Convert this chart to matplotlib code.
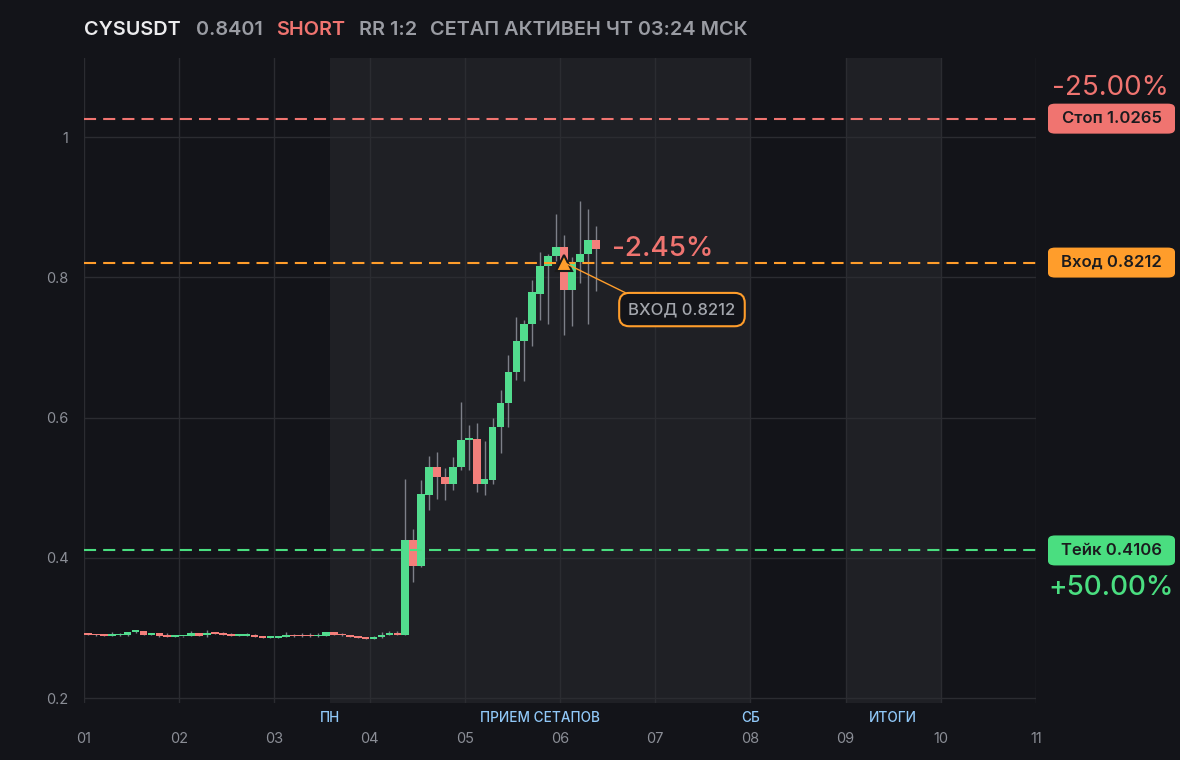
import numpy as np
import matplotlib
matplotlib.use("Agg")
import matplotlib.pyplot as plt
from matplotlib.patches import FancyBboxPatch

plt.rcParams['font.family'] = ['Inter', 'DejaVu Sans']

# --- данные (2-часовые свечи, начиная с дня 01) ---
symbol = "CYSUSDT"
last_price = "0.8401"
side = "SHORT"
rr_text = "RR 1:2"
status_text = "СЕТАП АКТИВЕН ЧТ 03:24 МСК"

opens = [0.2929, 0.2905, 0.2895, 0.2890, 0.2895, 0.2905, 0.2940, 0.2955, 0.2905, 0.2925,
         0.2890, 0.2876, 0.2880, 0.2888, 0.2925, 0.2905, 0.2925, 0.2915, 0.2905, 0.2890,
         0.2890, 0.2905, 0.2878, 0.2862, 0.2862, 0.2876, 0.2905, 0.2890, 0.2890, 0.2880,
         0.2890, 0.2940, 0.2905, 0.2893, 0.2876, 0.2862, 0.2848, 0.2876, 0.2905, 0.2929,
         0.2905, 0.4257, 0.3890, 0.4900, 0.5295, 0.5160, 0.5048, 0.5295, 0.5686, 0.5700,
         0.5060, 0.5110, 0.5860, 0.6210, 0.6650, 0.7090, 0.7340, 0.7770, 0.8157, 0.8300,
         0.8440, 0.7814, 0.8214, 0.8340, 0.8530]
closes = [0.2905, 0.2895, 0.2890, 0.2905, 0.2905, 0.2940, 0.2955, 0.2905, 0.2925, 0.2890,
          0.2876, 0.2885, 0.2888, 0.2925, 0.2890, 0.2925, 0.2915, 0.2905, 0.2890, 0.2905,
          0.2905, 0.2876, 0.2862, 0.2876, 0.2876, 0.2905, 0.2880, 0.2880, 0.2880, 0.2895,
          0.2940, 0.2905, 0.2893, 0.2876, 0.2862, 0.2848, 0.2876, 0.2905, 0.2929, 0.2905,
          0.4257, 0.3890, 0.4914, 0.5295, 0.5160, 0.5048, 0.5295, 0.5686, 0.5700, 0.5060,
          0.5129, 0.5870, 0.6210, 0.6657, 0.7100, 0.7340, 0.7786, 0.8157, 0.8300, 0.8440,
          0.7814, 0.8214, 0.8340, 0.8530, 0.8401]
highs = [0.2935, 0.2910, 0.2900, 0.2945, 0.2935, 0.2945, 0.2960, 0.2960, 0.2930, 0.2930,
         0.2925, 0.2890, 0.2892, 0.2955, 0.2930, 0.2965, 0.2945, 0.2940, 0.2935, 0.2910,
         0.2925, 0.2910, 0.2880, 0.2880, 0.2880, 0.2945, 0.2910, 0.2925, 0.2925, 0.2925,
         0.2945, 0.2945, 0.2925, 0.2898, 0.2880, 0.2865, 0.2880, 0.2945, 0.2950, 0.2950,
         0.5129, 0.4410, 0.5110, 0.5457, 0.5510, 0.5286, 0.5438, 0.6230, 0.5900, 0.5930,
         0.5670, 0.6000, 0.6400, 0.6900, 0.7430, 0.7386, 0.7957, 0.8357, 0.8330, 0.8900,
         0.8600, 0.8286, 0.9086, 0.8970, 0.8730]
lows = [0.2900, 0.2890, 0.2885, 0.2885, 0.2890, 0.2880, 0.2925, 0.2900, 0.2900, 0.2875,
        0.2870, 0.2872, 0.2876, 0.2885, 0.2885, 0.2870, 0.2910, 0.2900, 0.2885, 0.2885,
        0.2885, 0.2865, 0.2858, 0.2858, 0.2858, 0.2865, 0.2875, 0.2876, 0.2876, 0.2876,
        0.2885, 0.2900, 0.2888, 0.2865, 0.2858, 0.2844, 0.2840, 0.2855, 0.2900, 0.2900,
        0.2900, 0.3660, 0.3876, 0.4686, 0.4840, 0.4820, 0.4970, 0.5257, 0.5247, 0.4940,
        0.4900, 0.5060, 0.5490, 0.5870, 0.6540, 0.6530, 0.7020, 0.7386, 0.7330, 0.8230,
        0.7186, 0.7314, 0.7914, 0.7340, 0.7800]

start_day = 1
candles_per_day = 12

stop_price = 1.0265
entry_price = 0.8212
take_price = 0.4106
entry_candle = 60
stop_pct = "-25.00%"
take_pct = "+50.00%"
current_pct = "-2.45%"

day_ticks = [1, 2, 3, 4, 5, 6, 7, 8, 9, 10, 11]
day_labels = ["01", "02", "03", "04", "05", "06", "07", "08", "09", "10", "11"]
y_ticks = [0.2, 0.4, 0.6, 0.8, 1.0]
y_labels = ["0.2", "0.4", "0.6", "0.8", "1"]

# сессии (подсвеченные интервалы) и подписи под осью
sessions = [(3.583, 8.0), (9.0, 10.0)]
session_labels = ["ПН", "ПРИЕМ СЕТАПОВ", "СБ", "ИТОГИ"]
session_label_x = [3.58, 5.79, 8.0, 9.5]

# --- цвета ---
BG = '#131419'
BAND = '#1f2025'
GRID = '#2b2c31'
RED = '#f47f7b'
GREEN = '#52dc8e'
ORANGE = '#ff9d2b'
STOP_C = '#f07470'
TAKE_C = '#4ade80'
GREY = '#8b8e96'
BLUE = '#90c8f8'

W, H = 1180, 760
fig = plt.figure(figsize=(W / 100, H / 100), dpi=100, facecolor=BG)
ax_l, ax_r, ax_b, ax_t = 84 / W, 1036 / W, 1 - 703 / H, 1 - 58 / H
ax = fig.add_axes([ax_l, ax_b, ax_r - ax_l, ax_t - ax_b], facecolor=BG)
ymin, ymax = 0.193, 1.113
ax.set_xlim(1, 11)
ax.set_ylim(ymin, ymax)

for a, b in sessions:
    ax.axvspan(a, b, color=BAND, zorder=0, lw=0)

ax.set_xticks(day_ticks)
ax.set_xticklabels(day_labels)
ax.set_yticks(y_ticks)
ax.set_yticklabels(y_labels)
ax.grid(True, color=GRID, lw=1)
ax.set_axisbelow(True)
for g in ax.get_xgridlines() + ax.get_ygridlines():
    g.set_zorder(0.5)
for s in ax.spines.values():
    s.set_visible(False)
ax.tick_params(axis='x', length=0, pad=21, labelsize=10.5, labelcolor=GREY)
ax.tick_params(axis='y', length=0, pad=11, labelsize=10.5, labelcolor=GREY)

# свечи
o = np.array(opens)
c = np.array(closes)
times = start_day + (np.arange(len(o)) + 0.5) / candles_per_day
up = c >= o
colors = np.where(up, GREEN, RED)
bottoms = np.minimum(o, c)
heights = np.maximum(np.abs(c - o), 0.0025)
ax.vlines(times, lows, highs, color='#7d8089', lw=1, zorder=2)
ax.bar(times, heights, bottom=bottoms, width=0.97 / candles_per_day,
       color=colors, lw=0, zorder=3)

# уровни
dash = (5.8, 3.4)
ax.axhline(stop_price, color=STOP_C, lw=1.5, dashes=dash, zorder=4)
ax.axhline(entry_price, color=ORANGE, lw=1.5, dashes=dash, zorder=4)
ax.axhline(take_price, color=TAKE_C, lw=1.5, dashes=dash, zorder=4)

# точка входа
ax.plot([times[entry_candle]], [entry_price], marker='^', ms=11, color=ORANGE,
        mec='#1a1a1a', mew=1.5, zorder=6)
ax.annotate("ВХОД " + f"{entry_price:.4f}", xy=(times[entry_candle], entry_price),
            xytext=(118, -47), textcoords='offset pixels', ha='center', va='center',
            fontsize=12, color='#a3a6ad', fontweight='medium', zorder=7,
            bbox=dict(boxstyle='round,pad=0.55,rounding_size=0.6', fc=BG, ec=ORANGE, lw=1.5),
            arrowprops=dict(arrowstyle='-', color=ORANGE, lw=1, relpos=(0.15, 1.0),
                            shrinkA=0, shrinkB=2))
ax.text(6.545, 0.84, current_pct, color=STOP_C, fontsize=20, fontweight='medium',
        ha='left', va='center', zorder=7)

# подписи сессий
for lx, lab in zip(session_label_x, session_labels):
    ax.text(lx, -0.023, lab, transform=ax.get_xaxis_transform(), ha='center', va='center',
            fontsize=9.8, color=BLUE, fontweight='medium', clip_on=False)


# правые плашки
def y_fig(v):
    return ax_b + (v - ymin) / (ymax - ymin) * (ax_t - ax_b)


box_x0, box_x1, box_h = 1048 / W, 1175 / W, 30 / H
for price, name, col in [(stop_price, "Стоп", STOP_C), (entry_price, "Вход", ORANGE),
                         (take_price, "Тейк", TAKE_C)]:
    yc = y_fig(price)
    fig.patches.append(FancyBboxPatch((box_x0, yc - box_h / 2), box_x1 - box_x0, box_h,
                                      boxstyle='round,pad=0,rounding_size=0.006',
                                      transform=fig.transFigure, fc=col, ec='none'))
    fig.text((box_x0 + box_x1) / 2, yc, f"{name} {price:.4f}", ha='center', va='center',
             fontsize=12, color='#1b1b1e', fontweight='semibold')

fig.text(1110 / W, 1 - 88 / H, stop_pct, ha='center', va='center', fontsize=20, color=STOP_C)
fig.text(1111 / W, 1 - 588 / H, take_pct, ha='center', va='center', fontsize=20,
         color=TAKE_C, fontweight='medium')

# заголовок
ty = 1 - 30 / H
fs = 14.3
fig.text(84 / W, ty, symbol, fontsize=fs, color='#ececee', fontweight='semibold', va='center')
fig.text(196 / W, ty, last_price, fontsize=fs, color='#9a9ca3', fontweight='semibold', va='center')
fig.text(276 / W, ty, side, fontsize=fs, color=STOP_C, fontweight='semibold', va='center')
fig.text(359 / W, ty, rr_text, fontsize=fs, color='#9a9ca3', fontweight='semibold', va='center')
fig.text(430 / W, ty, status_text, fontsize=fs, color='#9a9ca3', fontweight='semibold', va='center')

fig.savefig("out.png", dpi=100, facecolor=BG)
